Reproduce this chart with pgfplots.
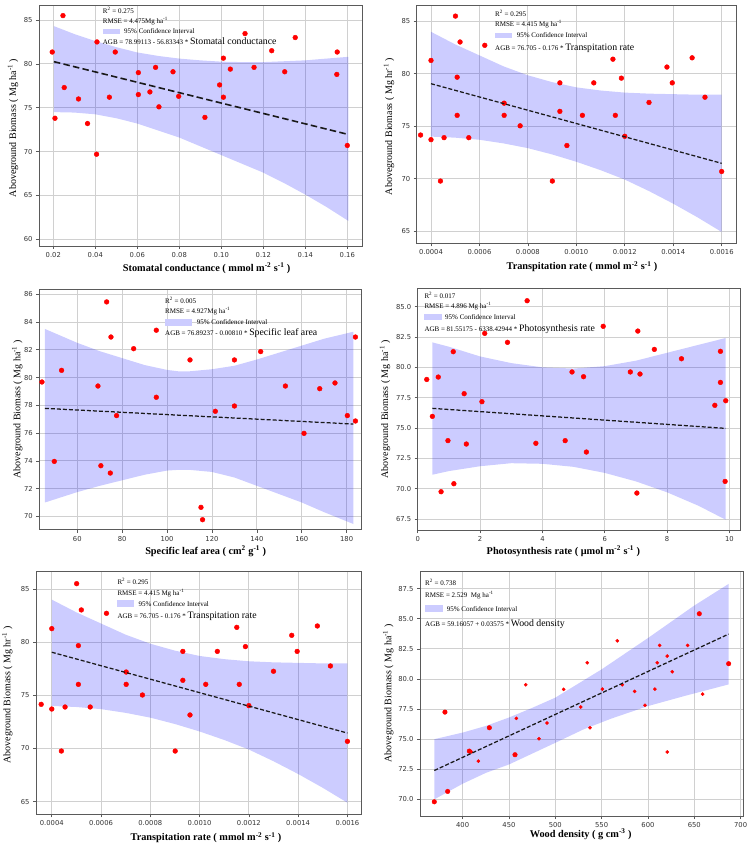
\documentclass[border=0pt]{standalone}
\usepackage{pgfplots}
\pgfplotsset{compat=1.18}
\usepackage{fontspec}
\setmainfont{Liberation Serif}
\newfontfamily\tickfont{DejaVu Sans}
\definecolor{bandc}{HTML}{0000FF}
\definecolor{bandleg}{HTML}{CCCCFF}
\definecolor{gridc}{HTML}{D0D0D0}
\definecolor{framec}{HTML}{5A5A5A}
\definecolor{tickc}{HTML}{333333}
\newcommand{\smallf}{\fontsize{7}{8}\selectfont}
\newcommand{\bigf}{\fontsize{9.8}{11}\selectfont}
\pgfplotsset{
  panel/.style={
    scale only axis,
    anchor=south west,
    axis line style={framec, line width=0.9pt},
    grid=major,
    major grid style={gridc, line width=0.8pt},
    tick align=outside,
    tick pos=left,
    major tick length=3pt,
    tick style={framec, line width=0.6pt},
    ticklabel style={font=\tickfont\fontsize{6.8}{8}\selectfont, text=tickc},
    /pgf/number format/assume math mode=true,
    scaled x ticks=false, scaled y ticks=false,
    xlabel style={font=\bfseries\fontsize{10.3}{12}\selectfont, anchor=center},
    ylabel style={font=\fontsize{10}{12}\selectfont, anchor=center},
    clip marker paths=true,
  },
  band/.style={fill=bandc, fill opacity=0.2, draw=none},
  pts/.style={only marks, mark=*, mark size=2.4pt, color=red},
  fitA/.style={black!90, line width=1.6pt, dash pattern=on 6.5pt off 3.3pt},
  fitB/.style={black!90, line width=1.25pt, dash pattern=on 4pt off 2pt},
}
\begin{document}
\begin{tikzpicture}
\useasboundingbox (0pt,0pt) rectangle (751pt,849pt);

% ---------------- Panel 1 ----------------
\begin{axis}[panel, at={(39pt,603pt)}, width=323pt, height=241pt,
  xmin=0.01319, xmax=0.167, ymin=59.24, ymax=86.71,
  xtick={0.02,0.04,0.06,0.08,0.10,0.12,0.14,0.16},
  xticklabels={0.02,0.04,0.06,0.08,0.10,0.12,0.14,0.16},
  ytick={60,65,70,75,80,85}, yticklabels={60,65,70,75,80,85},
  xlabel={Stomatal conductance ( mmol m\textsuperscript{-2} s\textsuperscript{-1} )},
  ylabel={Aboveground Biomass ( Mg ha\textsuperscript{-1} )},
  xlabel style={at={(axis description cs:0.519,-0.0913)}},
  ylabel style={at={(axis description cs:-0.0805,0.49)}},
]
\addplot[band] coordinates {(0.0203,84.3)(0.03,83.4)(0.04,82.6)(0.05,81.9)(0.06,81.3)(0.07,80.9)(0.08,80.6)(0.09,80.4)(0.10,80.25)(0.11,80.2)(0.12,80.2)(0.13,80.3)(0.14,80.4)(0.15,80.6)(0.1605,80.8)
 (0.1605,62.1)(0.15,63.7)(0.14,65.1)(0.13,66.4)(0.12,67.6)(0.11,68.6)(0.10,69.6)(0.09,70.6)(0.08,71.6)(0.07,72.4)(0.06,73.2)(0.05,73.8)(0.04,74.25)(0.03,74.45)(0.0203,74.5)} -- cycle;
\addplot[pts] coordinates {(0.0195,81.35)(0.0246,85.5)(0.0208,73.8)(0.0252,77.3)(0.032,76.0)(0.0363,73.2)(0.0408,82.5)(0.0406,69.7)(0.0495,81.35)(0.0467,76.2)(0.0605,79.0)(0.0605,76.5)(0.066,76.8)(0.0687,79.6)(0.0703,75.1)(0.077,79.1)(0.0797,76.3)(0.0922,73.9)(0.0992,77.6)(0.101,80.65)(0.101,76.2)(0.1043,79.4)(0.1113,83.45)(0.1156,79.6)(0.124,81.5)(0.1302,79.1)(0.1352,83.0)(0.1552,81.35)(0.155,78.8)(0.160,70.7)};
\addplot[fitA] coordinates {(0.0203,80.25)(0.1605,71.95)};
\end{axis}

% ---------------- Panel 2 ----------------
\begin{axis}[panel, at={(416.7pt,605.7pt)}, width=320pt, height=238.3pt,
  xmin=0.000341, xmax=0.001662, ymin=63.82, ymax=86.56,
  xtick={0.0004,0.0006,0.0008,0.0010,0.0012,0.0014,0.0016},
  xticklabels={0.0004,0.0006,0.0008,0.0010,0.0012,0.0014,0.0016},
  ytick={65,70,75,80,85}, yticklabels={65,70,75,80,85},
  xlabel={Transpitation rate ( mmol m\textsuperscript{-2} s\textsuperscript{-1} )},
  ylabel={Aboveground Biomass ( Mg hr\textsuperscript{-1} )},
  xlabel style={at={(axis description cs:0.5166,-0.0982)}},
  ylabel style={at={(axis description cs:-0.0866,0.49)}},
]
\addplot[band] coordinates {(0.0004,84.0)(0.0005,82.8)(0.0006,81.75)(0.0007,80.7)(0.0008,79.85)(0.0009,79.2)(0.0010,78.7)(0.0011,78.4)(0.0012,78.2)(0.0013,78.1)(0.0014,78.05)(0.0015,78.0)(0.0016,78.0)
 (0.0016,64.9)(0.0015,66.3)(0.0014,67.6)(0.0013,68.8)(0.0012,69.9)(0.0011,70.8)(0.0010,71.6)(0.0009,72.3)(0.0008,72.9)(0.0007,73.35)(0.0006,73.7)(0.0005,73.9)(0.0004,74.0)} -- cycle;
\addplot[pts] coordinates {(0.000357,74.15)(0.0004,81.27)(0.0004,73.71)(0.000439,69.76)(0.000454,73.9)(0.000501,85.5)(0.00052,83.03)(0.000508,79.67)(0.000508,76.03)(0.000556,73.9)(0.000622,82.71)(0.000702,77.19)(0.000702,76.03)(0.000768,75.03)(0.000901,69.76)(0.000932,79.13)(0.000932,76.41)(0.000961,73.15)(0.001025,76.03)(0.001072,79.13)(0.001151,81.39)(0.001161,76.03)(0.001186,79.58)(0.0012,74.03)(0.0013,77.26)(0.001374,80.64)(0.001396,79.13)(0.001478,81.52)(0.001531,77.76)(0.0016,70.67)};
\addplot[fitB] coordinates {(0.0004,79.05)(0.0016,71.45)};
\end{axis}

% ---------------- Panel 3 ----------------
\begin{axis}[panel, at={(39.3pt,319.3pt)}, width=322.4pt, height=240.7pt,
  xmin=43.07, xmax=186.7, ymin=69.04, ymax=86.38,
  xtick={60,80,100,120,140,160,180}, xticklabels={60,80,100,120,140,160,180},
  ytick={70,72,74,76,78,80,82,84,86}, yticklabels={70,72,74,76,78,80,82,84,86},
  xlabel={Specific leaf area ( cm\textsuperscript{2} g\textsuperscript{-1} )},
  ylabel={Aboveground Biomass ( Mg ha\textsuperscript{-1} )},
  xlabel style={at={(axis description cs:0.516,-0.0897)}},
  ylabel style={at={(axis description cs:-0.0682,0.5)}},
]
\addplot[band] coordinates {(45.6,83.5)(60,82.5)(70,81.9)(80,81.4)(90,80.9)(100,80.55)(105,80.45)(110,80.45)(120,80.6)(130,80.85)(140,81.3)(150,81.8)(160,82.3)(170,82.8)(183,83.3)
 (183,69.45)(170,70.3)(160,71.0)(150,71.6)(140,72.2)(130,72.8)(120,73.2)(110,73.35)(105,73.35)(100,73.3)(90,73.0)(80,72.6)(70,72.2)(60,71.75)(45.6,71.0)} -- cycle;
\addplot[pts] coordinates {(44.26,79.68)(42.2,76.0)(49.75,73.96)(53.0,80.52)(69.2,79.39)(70.5,73.65)(73.07,85.45)(75.0,82.92)(74.7,73.12)(77.5,77.26)(85.1,82.08)(95.2,83.41)(95.2,78.58)(110.2,81.27)(115.1,70.65)(115.8,69.76)(121.5,77.57)(130.0,81.27)(130.0,77.95)(141.7,81.87)(152.7,79.39)(161.0,75.98)(168.0,79.2)(174.8,79.61)(180.3,77.26)(183.9,82.92)(183.9,76.87)};
\addplot[fitB] coordinates {(45.6,77.78)(183,76.65)};
\end{axis}

% ---------------- Panel 4 ----------------
\begin{axis}[panel, at={(417.7pt,318.7pt)}, width=323pt, height=242.3pt,
  xmin=0, xmax=10.36, ymin=66.57, ymax=86.54,
  xtick={0,2,4,6,8,10}, xticklabels={0,2,4,6,8,10},
  ytick={67.5,70,72.5,75,77.5,80,82.5,85}, yticklabels={67.5,70.0,72.5,75.0,77.5,80.0,82.5,85.0},
  xlabel={Photosynthesis rate ( μmol m\textsuperscript{-2} s\textsuperscript{-1} )},
  ylabel={Aboveground Biomass ( Mg ha\textsuperscript{-1} )},
  xlabel style={at={(axis description cs:0.451,-0.0867)}},
  ylabel style={at={(axis description cs:-0.101,0.5)}},
]
\addplot[band] coordinates {(0.47,82.06)(1,81.7)(2,80.9)(3,80.35)(4,80.0)(5,79.9)(6,80.1)(7,80.55)(8,81.2)(9,81.85)(9.88,82.42)
 (9.88,67.44)(9,68.6)(8,69.7)(7,70.6)(6,71.3)(5,71.8)(4,72.05)(3,72.1)(2,71.85)(1,71.45)(0.47,71.15)} -- cycle;
\addplot[pts] coordinates {(0.29,79.0)(0.47,75.96)(0.66,79.2)(0.75,69.75)(0.97,73.96)(1.14,81.29)(1.16,70.41)(1.49,77.83)(1.56,73.68)(2.06,77.17)(2.15,82.8)(2.88,82.06)(3.51,85.49)(3.79,73.74)(4.73,73.96)(4.95,79.62)(5.41,73.02)(5.32,79.23)(5.95,83.38)(6.82,79.62)(7.06,82.99)(7.03,69.64)(7.13,79.45)(7.59,81.48)(8.46,80.71)(9.53,76.87)(9.71,81.32)(9.71,78.76)(9.88,77.25)(9.86,70.6)};
\addplot[fitB] coordinates {(0.47,76.62)(9.88,74.97)};
\end{axis}

% ---------------- Panel 5 ----------------
\begin{axis}[panel, at={(36pt,34.7pt)}, width=325.7pt, height=243.3pt,
  xmin=0.000336, xmax=0.001658, ymin=63.81, ymax=86.69,
  xtick={0.0004,0.0006,0.0008,0.0010,0.0012,0.0014,0.0016},
  xticklabels={0.0004,0.0006,0.0008,0.0010,0.0012,0.0014,0.0016},
  ytick={65,70,75,80,85}, yticklabels={65,70,75,80,85},
  xlabel={Transpitation rate ( mmol m\textsuperscript{-2} s\textsuperscript{-1} )},
  ylabel={Aboveground Biomass ( Mg hr\textsuperscript{-1} )},
  xlabel style={at={(axis description cs:0.522,-0.0962)}},
  ylabel style={at={(axis description cs:-0.088,0.49)}},
]
\addplot[band] coordinates {(0.0004,84.0)(0.0005,82.8)(0.0006,81.75)(0.0007,80.7)(0.0008,79.85)(0.0009,79.2)(0.0010,78.7)(0.0011,78.4)(0.0012,78.2)(0.0013,78.1)(0.0014,78.05)(0.0015,78.0)(0.0016,78.0)
 (0.0016,64.9)(0.0015,66.3)(0.0014,67.6)(0.0013,68.8)(0.0012,69.9)(0.0011,70.8)(0.0010,71.6)(0.0009,72.3)(0.0008,72.9)(0.0007,73.35)(0.0006,73.7)(0.0005,73.9)(0.0004,74.0)} -- cycle;
\addplot[pts] coordinates {(0.000357,74.15)(0.0004,81.27)(0.0004,73.71)(0.000439,69.76)(0.000454,73.9)(0.000501,85.5)(0.00052,83.03)(0.000508,79.67)(0.000508,76.03)(0.000556,73.9)(0.000622,82.71)(0.000702,77.19)(0.000702,76.03)(0.000768,75.03)(0.000901,69.76)(0.000932,79.13)(0.000932,76.41)(0.000961,73.15)(0.001025,76.03)(0.001072,79.13)(0.001151,81.39)(0.001161,76.03)(0.001186,79.58)(0.0012,74.03)(0.0013,77.26)(0.001374,80.64)(0.001396,79.13)(0.001478,81.52)(0.001531,77.76)(0.0016,70.67)};
\addplot[fitB] coordinates {(0.0004,79.05)(0.0016,71.45)};
\end{axis}

% ---------------- Panel 6 ----------------
\begin{axis}[panel, at={(420pt,33pt)}, width=323.3pt, height=245pt,
  xmin=353.96, xmax=702.9, ymin=68.62, ymax=88.97,
  xtick={400,450,500,550,600,650,700}, xticklabels={400,450,500,550,600,650,700},
  ytick={70,72.5,75,77.5,80,82.5,85,87.5}, yticklabels={70.0,72.5,75.0,77.5,80.0,82.5,85.0,87.5},
  xlabel={Wood density ( g cm\textsuperscript{-3} )},
  ylabel={Aboveground Biomass ( Mg ha\textsuperscript{-1} )},
  xlabel style={at={(axis description cs:0.497,-0.0747)}},
  ylabel style={at={(axis description cs:-0.098,0.5)}},
]
\addplot[band] coordinates {(369.4,75.0)(400,75.55)(425,76.1)(450,76.8)(475,77.6)(500,78.45)(550,80.8)(600,83.4)(650,86.1)(687.1,87.9)
 (687.1,79.55)(640,78.6)(600,77.75)(560,76.7)(530,75.8)(500,74.7)(475,73.8)(450,72.9)(425,72.2)(400,71.3)(369.4,70.0)} -- cycle;
\addplot[pts, mark size=2.3pt] coordinates {(369.4,69.8)(380.9,77.25)(383.8,70.66)(407.2,74.01)(428.8,75.95)(456.5,73.71)(655.4,85.42)(687.1,81.27)};
\addplot[pts, mark size=1.6pt] coordinates {(409.4,73.95)(416.9,73.18)(457.9,76.73)(468.0,79.52)(482.4,75.04)(491.0,76.34)(509.0,79.14)(527.4,77.67)(534.5,81.35)(537.4,75.95)(550.7,79.16)(566.9,83.17)(572.3,79.52)(585.6,78.97)(596.8,77.81)(607.5,79.16)(610.0,81.35)(612.6,82.79)(620.8,81.9)(620.8,73.93)(626.2,80.6)(642.8,82.79)(659.0,78.75)};
\addplot[fitB] coordinates {(369.4,72.4)(687.1,83.73)};
\end{axis}

% ---------------- Legends ----------------
\tikzset{lt/.style={anchor=west, inner sep=0pt, font=\smallf}}
% P1
\node[lt] at (102.7pt,839pt) {R\textsuperscript{2} = 0.275};
\node[lt] at (102.7pt,828.3pt) {RMSE = 4.475Mg ha\textsuperscript{-1}};
\fill[bandleg] (102.7pt,820.3pt) rectangle (120pt,815pt);
\node[lt] at (124pt,817.7pt) {95\% Confidence Interval};
\node[lt] at (102.7pt,808pt) {AGB = 78.99113 - 56.83343 * {\bigf Stomatal conductance}};
% P2
\node[lt] at (495pt,835.7pt) {R\textsuperscript{2} = 0.295};
\node[lt] at (495pt,824.7pt) {RMSE = 4.415 Mg ha\textsuperscript{-1}};
\fill[bandleg] (495pt,816.3pt) rectangle (511.7pt,810.7pt);
\node[lt] at (516.7pt,813.5pt) {95\% Confidence Interval};
\node[lt] at (495pt,800.7pt) {AGB = 76.705 - 0.176 * {\bigf Transpitation rate}};
% P3
\node[lt] at (165pt,548.7pt) {R\textsuperscript{2} = 0.005};
\node[lt] at (165pt,537.7pt) {RMSE = 4.927Mg ha\textsuperscript{-1}};
\fill[bandleg] (165pt,530pt) rectangle (191.7pt,523.3pt);
\node[lt] at (196.7pt,526.7pt) {95\% Confidence Interval};
\node[lt] at (165pt,516pt) {AGB = 76.89237 - 0.00810 * {\bigf Specific leaf area}};
% P4
\node[lt] at (424.3pt,553.7pt) {R\textsuperscript{2} = 0.017};
\node[lt] at (424.3pt,542.7pt) {RMSE = 4.896 Mg ha\textsuperscript{-1}};
\fill[bandleg] (424.3pt,535pt) rectangle (441.7pt,528.7pt);
\node[lt] at (445pt,531.7pt) {95\% Confidence Interval};
\node[lt] at (424.3pt,520pt) {AGB = 81.55175 - 6338.42944 * {\bigf Photosynthesis rate}};
% P5
\node[lt] at (117.3pt,268pt) {R\textsuperscript{2} = 0.295};
\node[lt] at (117.3pt,256.3pt) {RMSE = 4.415 Mg ha\textsuperscript{-1}};
\fill[bandleg] (117.3pt,248.7pt) rectangle (134pt,242pt);
\node[lt] at (138.3pt,245pt) {95\% Confidence Interval};
\node[lt] at (117.3pt,233pt) {AGB = 76.705 - 0.176 * {\bigf Transpitation rate}};
% P6
\node[lt] at (425pt,266.3pt) {R\textsuperscript{2} = 0.738};
\node[lt] at (425pt,254pt) {RMSE = 2.529\ \ Mg ha\textsuperscript{-1}};
\fill[bandleg] (425pt,243.7pt) rectangle (443.3pt,237pt);
\node[lt] at (446.7pt,239.7pt) {95\% Confidence Interval};
\node[lt] at (425pt,224.7pt) {AGB = 59.16057 + 0.03575 * {\bigf Wood density}};
\end{tikzpicture}
\end{document}
